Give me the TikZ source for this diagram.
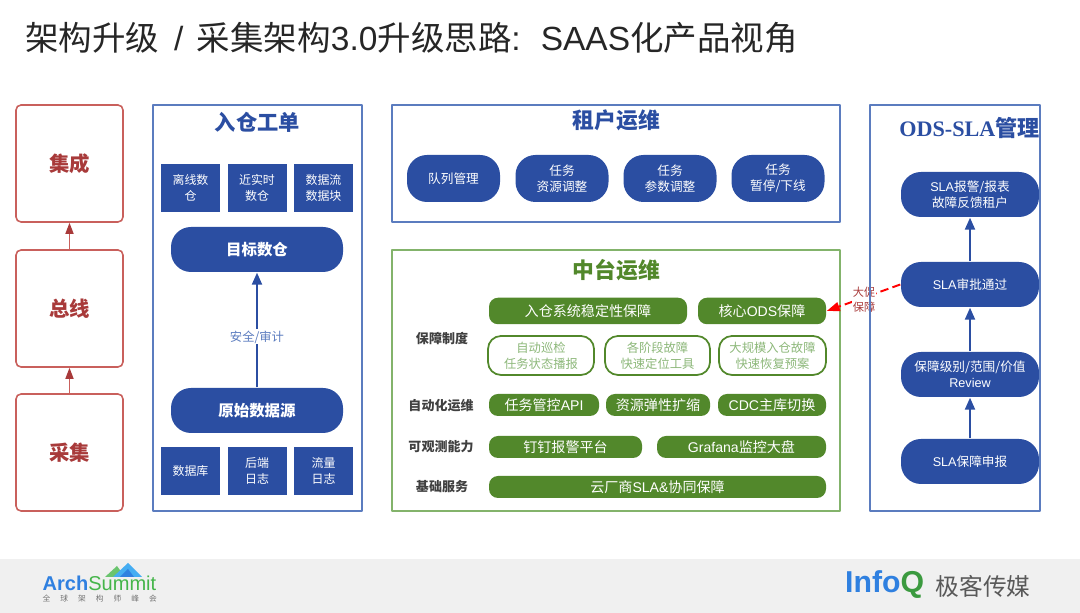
\documentclass[tikz,border=0pt]{standalone}
\usepackage{fontspec}
\setmainfont{Noto Sans CJK SC}
\newfontfamily\serifodsfont{Liberation Serif}
\newfontfamily\logofont{Liberation Sans}
\usetikzlibrary{arrows.meta}
\definecolor{FigureBlue}{HTML}{2B4EA2}
\definecolor{FigureFrame}{HTML}{5B7CBF}
\definecolor{FigureRed}{HTML}{A83A3A}
\definecolor{FigureRedLine}{HTML}{C9605C}
\definecolor{FigureGreen}{HTML}{52882B}
\definecolor{FigureMint}{HTML}{83B36B}
\definecolor{FigurePale}{HTML}{8DB87A}
\definecolor{FigureFoot}{HTML}{F0F0F0}
\definecolor{FigureArch}{HTML}{2F80E0}
\definecolor{FigureSky}{HTML}{45ADF2}
\definecolor{FigureSummit}{HTML}{45B54A}
\newcommand{\fs}[1]{\fontsize{#1}{#1}\selectfont}
\newcommand{\la}[1]{{\logofont #1}}

\begin{document}
\begin{tikzpicture}[x=1cm,y=-1cm,line join=round,
    frame/.style={draw,line width=.45pt,inner sep=0},
    stagebox/.style={frame,draw=FigureRedLine,rounded corners=.05cm,minimum width=1.07cm,minimum height=1.17cm,text=FigureRed,font=\fs{5.8}\bfseries},
    tile/.style={fill=FigureBlue,text=white,minimum width=.59cm,minimum height=.48cm,inner sep=0,align=center,font=\fontsize{3.4}{4.6}\selectfont},
    pill/.style={fill=FigureBlue,text=white,rounded corners=.2cm,minimum width=1.38cm,minimum height=.45cm,inner sep=0,align=center,font=\fontsize{3.6}{4.6}\selectfont},
    bigpill/.style={pill,minimum width=1.72cm,font=\fs{4.4}\bfseries},
    greenpill/.style={fill=FigureGreen,text=white,rounded corners=.09cm,minimum height=.22cm,inner sep=0,font=\fs{4}},
    greenline/.style={draw=FigureGreen,line width=.5pt,fill=white,text=FigurePale,rounded corners=.13cm,minimum height=.39cm,inner sep=0,align=center,font=\fontsize{3.5}{4.5}\selectfont},
    rowlabel/.style={text=black!75,font=\fs{3.7}\bfseries,inner sep=0},
    upline/.style={-{Triangle[length=.12cm,width=.1cm]},draw=FigureBlue,line width=.6pt},
    stageline/.style={-{Triangle[length=.11cm,width=.08cm,color=FigureRed]},draw=FigureRedLine,line width=.45pt},
    redline/.style={-{Triangle[length=.13cm,width=.09cm]},draw=red,line width=.55pt,dash pattern=on 2.4pt off 1.2pt}]
  \useasboundingbox (0,0) rectangle (10.8,6.13);
  \node[anchor=west,inner sep=0,text=black!85,font=\fs{9.53}] (title) at (.245,.375) {架构升级\hspace*{.15cm}\la{/}\hspace*{.135cm}采集架构\la{3.0}升级思路\la{:}\hspace*{.2cm}\la{SAAS}化产品视角};

  % left column
  \node[stagebox] (jicheng) at (.695,1.635) {集成};
  \node[stagebox] (zongxian) at (.695,3.085) {总线};
  \node[stagebox] (caiji) at (.695,4.525) {采集};
  \draw[stageline] (zongxian)--(jicheng);
  \draw[stageline] (caiji)--(zongxian);

  % ruku box
  \node[frame,draw=FigureFrame,minimum width=2.09cm,minimum height=4.06cm] (rukubox) at (2.575,3.08) {};
  \node[text=FigureBlue,font=\fs{6.05}\bfseries,inner sep=0] (rukutitle) at (2.575,1.22) {入仓工单};
  \node[tile] (lixian) at (1.905,1.88) {离线数\\仓};
  \node[tile] (jinshishi) at (2.57,1.88) {近实时\\数仓};
  \node[tile] (shujuliu) at (3.235,1.88) {数据流\\数据块};
  \node[bigpill] (mubiao) at (2.57,2.495) {目标数仓};
  \node[bigpill] (yuanshi) at (2.57,4.105) {原始数据源};
  \node[tile] (shujuku) at (1.905,4.71) {数据库};
  \node[tile] (houduan) at (2.57,4.71) {后端\\日志};
  \node[tile] (liuliang) at (3.235,4.71) {流量\\日志};
  \draw[upline] (yuanshi)--(mubiao) node[pos=.44,fill=white,text=FigureFrame,inner sep=.3pt,font=\fs{3.5}] (anquan) {安全/审计};

  % tenant box
  \node[frame,draw=FigureFrame,minimum width=4.48cm,minimum height=1.17cm] (zuhubox) at (6.16,1.635) {};
  \node[text=FigureBlue,font=\fs{6.2}\bfseries,inner sep=0] (zuhutitle) at (6.165,1.2) {租户运维};
  \node[pill,minimum width=.93cm,minimum height=.47cm] (duilie) at (4.535,1.785) {队列管理};
  \node[pill,minimum width=.93cm,minimum height=.47cm] (ziyuan) at (5.62,1.785) {任务\\资源调整};
  \node[pill,minimum width=.93cm,minimum height=.47cm] (canshu) at (6.70,1.785) {任务\\参数调整};
  \node[pill,minimum width=.93cm,minimum height=.47cm] (zanting) at (7.78,1.785) {任务\\暂停/下线};

  % middle box
  \node[frame,draw=FigureMint,minimum width=4.48cm,minimum height=2.61cm] (zhongtaibox) at (6.16,3.805) {};
  \node[text=FigureGreen,font=\fs{6.2}\bfseries,inner sep=0] (zhongtaititle) at (6.165,2.70) {中台运维};
  \node[rowlabel] (baozhang) at (4.42,3.39) {保障制度};
  \node[rowlabel] (zidonghua) at (4.41,4.055) {自动化运维};
  \node[rowlabel] (guance) at (4.41,4.47) {可观测能力};
  \node[rowlabel] (jichu) at (4.42,4.87) {基础服务};
  \node[greenpill,minimum width=1.98cm,minimum height=.265cm] (wending) at (5.88,3.11) {入仓系统稳定性保障};
  \node[greenpill,minimum width=1.28cm,minimum height=.265cm] (hexin) at (7.62,3.11) {核心\la{ODS}保障};
  \node[greenline,minimum width=1.06cm] (xunjian) at (5.41,3.555) {自动巡检\\任务状态播报};
  \node[greenline,minimum width=1.05cm] (dingwei) at (6.575,3.555) {各阶段故障\\快速定位工具};
  \node[greenline,minimum width=1.07cm] (huifu) at (7.725,3.555) {大规模入仓故障\\快速恢复预案};
  \node[greenpill,minimum width=1.10cm] (guankong) at (5.44,4.05) {任务管控\la{API}};
  \node[greenpill,minimum width=1.04cm] (tanxing) at (6.58,4.05) {资源弹性扩缩};
  \node[greenpill,minimum width=1.08cm] (qiehuan) at (7.72,4.05) {\la{CDC}主库切换};
  \node[greenpill,minimum width=1.53cm] (dingding) at (5.655,4.47) {钉钉报警平台};
  \node[greenpill,minimum width=1.69cm] (grafana) at (7.415,4.47) {\la{Grafana}监控大盘};
  \node[greenpill,minimum width=3.37cm] (yunchang) at (6.575,4.87) {云厂商\la{SLA\&}协同保障};

  % ods column
  \node[text=FigureBlue,font=\fs{6.3}\bfseries,inner sep=0] (odstitle) at (9.695,1.28) {{\serifodsfont ODS-SLA}管理};
  \node[pill] (baobiao) at (9.70,1.945) {\la{SLA}报警/报表\\故障反馈租户};
  \node[pill] (shenpi) at (9.70,2.845) {\la{SLA}审批通过};
  \node[pill] (jibie) at (9.70,3.745) {保障级别/范围/价值\\\la{Review}};
  \node[pill] (shenbao) at (9.70,4.615) {\la{SLA}保障申报};
  \draw[upline] (shenbao)--(jibie);
  \draw[upline] (jibie)--(shenpi);
  \draw[upline] (shenpi)--(baobiao);
  \draw[redline] (shenpi.west)--(hexin.east);
  \node[fill=white,text=FigureRed,align=center,inner sep=.2pt,font=\fontsize{3.2}{4.3}\selectfont] (dacu) at (8.64,2.995) {大促\\保障};
  \node[frame,draw=FigureFrame,minimum width=1.70cm,minimum height=4.06cm] (odsbox) at (9.55,3.08) {};

  % footer
  \fill[FigureFoot] (0,5.59) rectangle (10.8,6.13);
  \fill[FigureSummit!80!white] (1.05,5.77) -- (1.17,5.66) -- (1.25,5.77) -- cycle;
  \fill[FigureSky] (1.13,5.77) -- (1.28,5.63) -- (1.42,5.77) -- cycle;
  \fill[FigureArch] (1.20,5.77) -- (1.28,5.69) -- (1.34,5.77) -- cycle;
  \node[anchor=base west,inner sep=0,font=\logofont\fontsize{5.7}{7}\selectfont,text=FigureArch] (arch) at (.42,5.91) {\textbf{Arch}\textcolor{FigureSummit}{Summit}};
  \node[anchor=west,inner sep=0,text=black!55,font=\fs{2.2}] (quanqiu) at (.42,5.985) {全\hspace{.1cm}球\hspace{.1cm}架\hspace{.1cm}构\hspace{.1cm}师\hspace{.1cm}峰\hspace{.1cm}会};
  \node[anchor=base west,inner sep=0,font=\logofont\bfseries\fontsize{8.6}{9}\selectfont,text=FigureArch] (infoq) at (8.445,5.93) {Info\textcolor{FigureSummit!85!black}{Q}};
  \node[anchor=west,inner sep=0,text=black!65,font=\fs{6.75}] (jike) at (9.35,5.86) {极客传媒};
\end{tikzpicture}
\end{document}
